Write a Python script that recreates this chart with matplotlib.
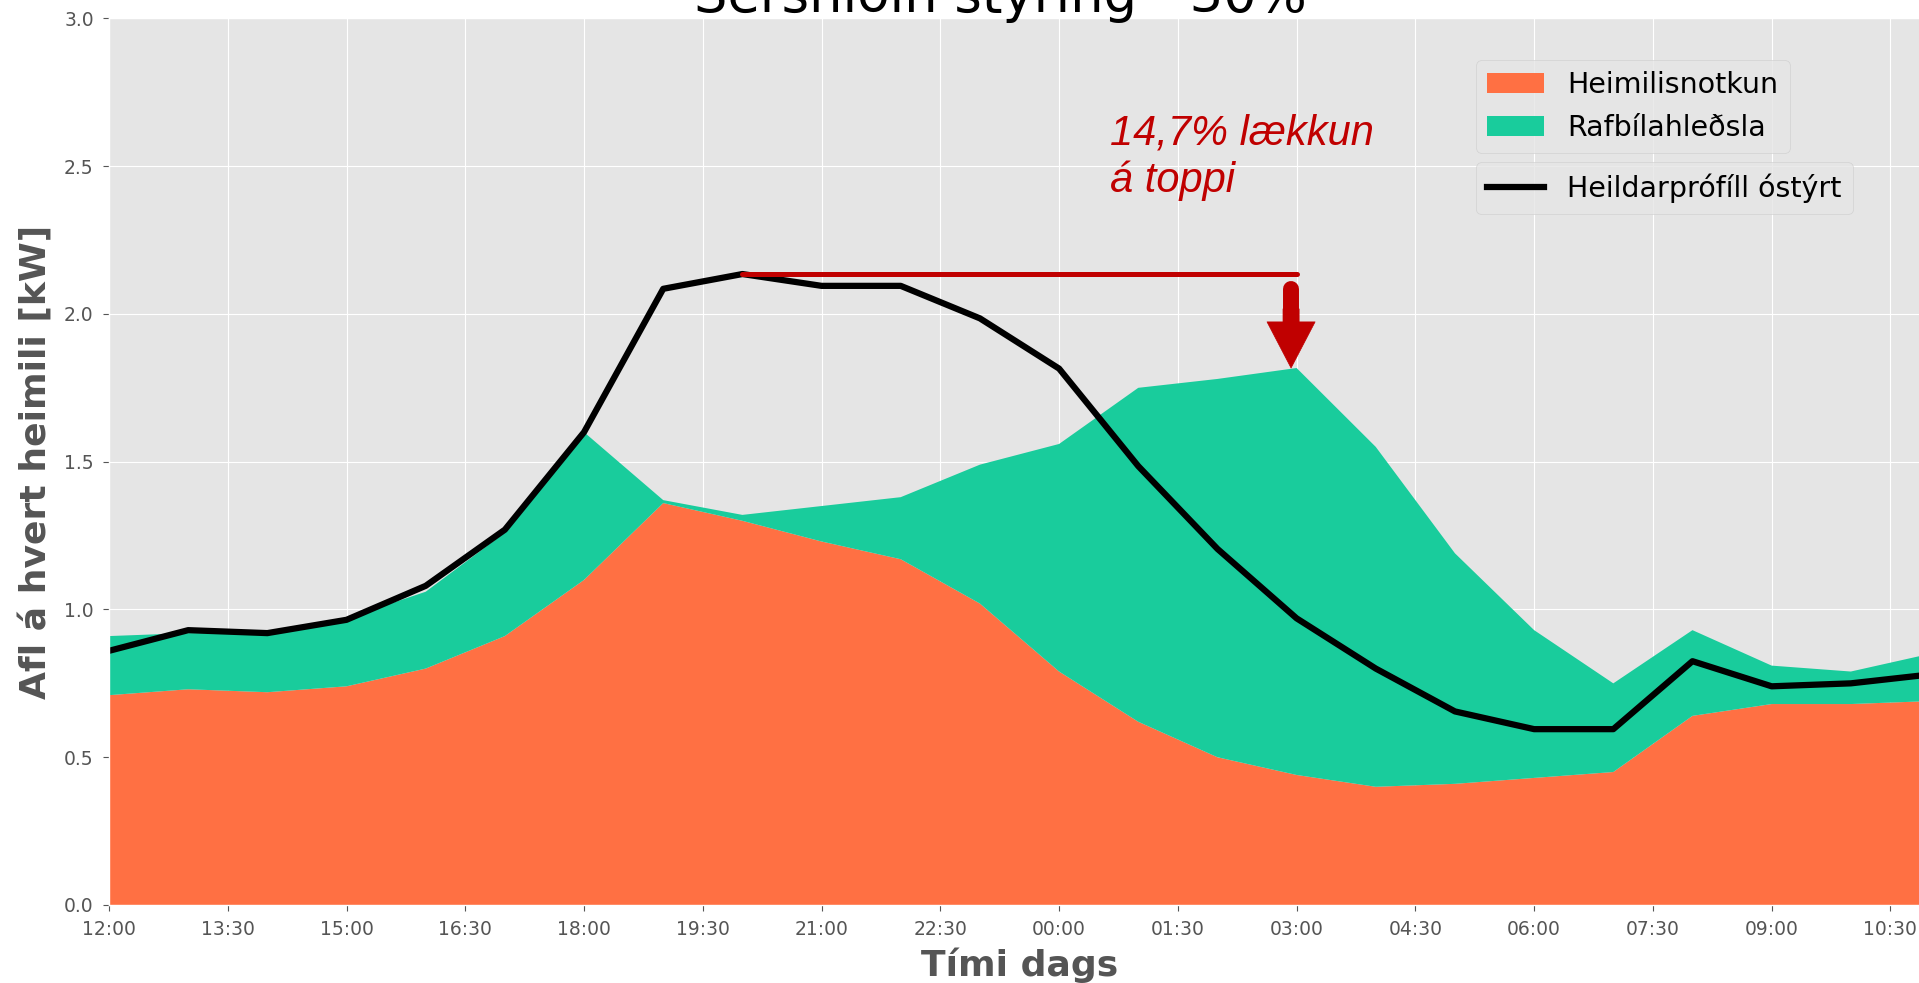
import numpy as np
import matplotlib.pyplot as plt

plt.style.use('ggplot')

# Hourly values, 12:00 -> 11:00 next day (kW per household)
times = ["12:00", "13:00", "14:00", "15:00", "16:00", "17:00", "18:00", "19:00",
         "20:00", "21:00", "22:00", "23:00", "00:00", "01:00", "02:00", "03:00",
         "04:00", "05:00", "06:00", "07:00", "08:00", "09:00", "10:00", "11:00"]
heimili = [0.71, 0.73, 0.72, 0.74, 0.80, 0.91, 1.10, 1.36,
           1.30, 1.23, 1.17, 1.02, 0.79, 0.62, 0.50, 0.44,
           0.40, 0.41, 0.43, 0.45, 0.64, 0.68, 0.68, 0.69]
rafbilar = [0.20, 0.19, 0.20, 0.23, 0.26, 0.35, 0.50, 0.01,
            0.02, 0.12, 0.21, 0.47, 0.77, 1.13, 1.28, 1.377,
            1.15, 0.78, 0.50, 0.30, 0.29, 0.13, 0.11, 0.16]
ostyrt = [0.86, 0.93, 0.92, 0.965, 1.08, 1.27, 1.60, 2.085,
          2.135, 2.095, 2.095, 1.985, 1.815, 1.485, 1.205, 0.97,
          0.80, 0.655, 0.595, 0.595, 0.825, 0.74, 0.75, 0.78]

tick_labels = ["12:00", "13:30", "15:00", "16:30", "18:00", "19:30", "21:00", "22:30",
               "00:00", "01:30", "03:00", "04:30", "06:00", "07:30", "09:00", "10:30"]

x = np.arange(len(times))
heimili = np.array(heimili)
rafbilar = np.array(rafbilar)
ostyrt = np.array(ostyrt)

fig = plt.figure(figsize=(19.19, 9.83), dpi=100)
ax = fig.add_axes([109/1919, 1 - 905/983, (1930 - 109)/1919, (905 - 18.4)/983])

stack = ax.stackplot(x, heimili, rafbilar, colors=['#ff7043', '#19cc9c'],
                     labels=['Heimilisnotkun', 'Rafbílahleðsla'])
line, = ax.plot(x, ostyrt, color='black', lw=4.5, label='Heildarprófíll óstýrt')

# toppur / lækkun
toppur = ostyrt.max()
i_top = ostyrt.argmax()
nyr = (heimili + rafbilar).max()
i_nyr = (heimili + rafbilar).argmax()
red = '#c00000'
ax.plot([i_top, i_nyr], [toppur, toppur], color=red, lw=3.6, solid_capstyle='round')
ax_x = i_nyr - 0.07
ax.plot([ax_x, ax_x], [toppur - 0.05, nyr + 0.2], color=red, lw=11.5, solid_capstyle='round')
ax.annotate('', xy=(ax_x, nyr), xytext=(ax_x, nyr + 0.2),
            arrowprops=dict(arrowstyle='simple,head_length=0.83,head_width=0.865,tail_width=0.29',
                            mutation_scale=40, color=red, shrinkA=0, shrinkB=0))
ax.text(12.64, 2.414, '14,7% lækkun\ná toppi', color=red, style='italic',
        family='Liberation Sans', fontsize=30, va='baseline')

ax.set_xlim(0, len(times) - 1)
ax.set_ylim(0, 3)
ax.set_xticks(np.arange(0, len(times) - 1, 1.5))
ax.set_xticklabels(tick_labels)
ax.set_yticks(np.arange(0, 3.01, 0.5))
ax.tick_params(labelsize=13.5, length=4, pad=7)

ax.set_xlabel('Tími dags', fontsize=26, fontweight='bold', color='#555555', labelpad=6)
ax.set_ylabel('Afl á hvert heimili [kW]', fontsize=26, fontweight='bold', color='#555555', labelpad=8)

leg1 = ax.legend(handles=stack, loc='upper left', fontsize=20.5, borderaxespad=0,
                 bbox_to_anchor=(1476/1919, 1 - 60/983), bbox_transform=fig.transFigure)
ax.add_artist(leg1)
ax.legend(handles=[line], loc='upper left', fontsize=20.5, borderaxespad=0,
          bbox_to_anchor=(1476/1919, 1 - 162/983), bbox_transform=fig.transFigure)

fig.text(1000/1919, 1 - 12/983, 'Sérsniðin stýring - 30%', fontsize=38,
         ha='center', va='baseline')

fig.savefig('out.png', dpi=100)
